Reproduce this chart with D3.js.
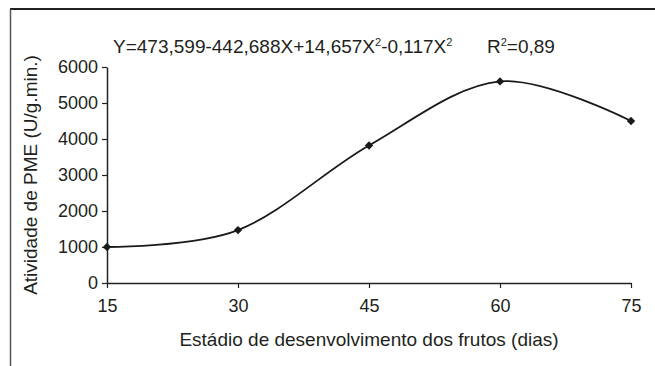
<!DOCTYPE html>
<html>
<head>
<meta charset="utf-8">
<script src="https://cdn.jsdelivr.net/npm/d3@7"></script>
<style>
  html, body { margin: 0; padding: 0; background: #fff; }
  svg text { font-family: "Liberation Sans", Arial, sans-serif; fill: #231f20; }
</style>
</head>
<body>
<svg id="chart" width="655" height="366"></svg>
<script>
// Days of fruit development and PME activity (U/g.min.)
const dias = [15, 30, 45, 60, 75];
const atividade = [1000, 1470, 3820, 5600, 4500];
const xTicks = [15, 30, 45, 60, 75];
const yTicks = [0, 1000, 2000, 3000, 4000, 5000, 6000];

const svg = d3.select("#chart");
const margin = { left: 107, right: 24, top: 67, bottom: 83 };
const W = 655, H = 366;

const x = d3.scaleLinear().domain([15, 75]).range([margin.left, W - margin.right]);
const y = d3.scaleLinear().domain([0, 6000]).range([H - margin.bottom, margin.top]);

// outer frame: top and left edges
svg.append("line").attr("x1", 10).attr("x2", 655).attr("y1", 9).attr("y2", 9)
  .attr("stroke", "#222").attr("stroke-width", 2);
svg.append("line").attr("x1", 10.5).attr("x2", 10.5).attr("y1", 9).attr("y2", 366)
  .attr("stroke", "#555").attr("stroke-width", 1.5);

// axes
const xAxis = d3.axisBottom(x).tickValues(xTicks).tickSize(5).tickPadding(11).tickSizeOuter(0);
const yAxis = d3.axisLeft(y).tickValues(yTicks).tickFormat(d3.format("d"))
  .tickSize(5).tickPadding(4).tickSizeOuter(0);

const gx = svg.append("g").attr("transform", `translate(0,${y(0)})`).call(xAxis);
const gy = svg.append("g").attr("transform", `translate(${x(15)},0)`).call(yAxis);
[gx, gy].forEach(g => {
  g.select(".domain").attr("stroke", "#222").attr("stroke-width", 1.5);
  g.selectAll(".tick line").attr("stroke", "#222").attr("stroke-width", 1.2);
  g.selectAll(".tick text").attr("font-size", 18).style("fill", "#231f20")
    .attr("font-family", "Liberation Sans, Arial, sans-serif");
});

// smoothed curve through the measured points
const pts = dias.map((d, i) => [x(d), y(atividade[i])]);
svg.append("path")
  .attr("d", d3.line().curve(d3.curveCardinal.tension(0))(pts))
  .attr("fill", "none").attr("stroke", "#1a1a1a").attr("stroke-width", 1.8);

// diamond markers
svg.selectAll(".pt").data(pts).join("path")
  .attr("class", "pt")
  .attr("transform", d => `translate(${d[0]},${d[1]})`)
  .attr("d", d3.symbol().type(d3.symbolDiamond2).size(45))
  .attr("fill", "#1a1a1a");

// axis titles
svg.append("text").attr("x", (x(15) + x(75)) / 2).attr("y", 346)
  .attr("text-anchor", "middle").attr("font-size", 19)
  .text("Estádio de desenvolvimento dos frutos (dias)");
svg.append("text")
  .attr("transform", `translate(37,${(y(0) + y(6000)) / 2}) rotate(-90)`)
  .attr("text-anchor", "middle").attr("font-size", 19)
  .text("Atividade de PME (U/g.min.)");

// regression equation
const eq = svg.append("text").attr("x", 113).attr("y", 53).attr("font-size", 19);
eq.append("tspan").text("Y=473,599-442,688X+14,657X");
eq.append("tspan").attr("font-size", 11).attr("dy", -7).text("2");
eq.append("tspan").attr("dy", 7).text("-0,117X");
eq.append("tspan").attr("font-size", 11).attr("dy", -7).text("2");

const r2 = svg.append("text").attr("x", 487).attr("y", 53).attr("font-size", 19);
r2.append("tspan").text("R");
r2.append("tspan").attr("font-size", 11).attr("dy", -7).text("2");
r2.append("tspan").attr("dy", 7).text("=0,89");
</script>
</body>
</html>
